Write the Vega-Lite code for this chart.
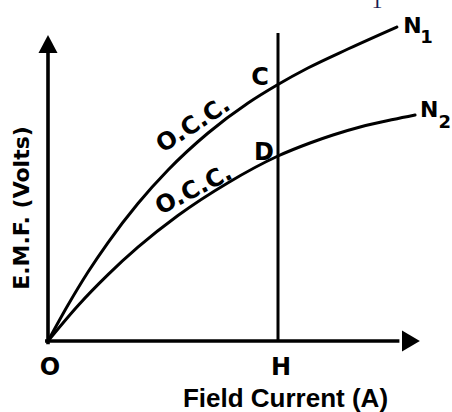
{
  "$schema": "https://vega.github.io/schema/vega-lite/v6.json",
  "autosize": "none",
  "width": 391,
  "height": 330,
  "padding": {"left": 48, "top": 11, "right": 13, "bottom": 71},
  "background": "white",
  "config": {"view": {"stroke": null}},
  "datasets": {
    "curves": [
      {"series": "N1", "current": 0, "emf": 0},
      {"series": "N1", "current": 0.87, "emf": 12.0},
      {"series": "N1", "current": 1.74, "emf": 23.0},
      {"series": "N1", "current": 2.61, "emf": 32.83},
      {"series": "N1", "current": 3.91, "emf": 45.83},
      {"series": "N1", "current": 5.22, "emf": 57.0},
      {"series": "N1", "current": 6.96, "emf": 69.33},
      {"series": "N1", "current": 8.70, "emf": 79.33},
      {"series": "N1", "current": 9.96, "emf": 85.33},
      {"series": "N1", "current": 11.30, "emf": 91.0},
      {"series": "N1", "current": 13.04, "emf": 97.33},
      {"series": "N1", "current": 15.17, "emf": 104.67},
      {"series": "N2", "current": 0, "emf": 0},
      {"series": "N2", "current": 1.30, "emf": 11.77},
      {"series": "N2", "current": 2.61, "emf": 22.13},
      {"series": "N2", "current": 3.91, "emf": 31.27},
      {"series": "N2", "current": 5.65, "emf": 41.83},
      {"series": "N2", "current": 7.83, "emf": 52.77},
      {"series": "N2", "current": 10.0, "emf": 61.67},
      {"series": "N2", "current": 11.39, "emf": 66.0},
      {"series": "N2", "current": 12.39, "emf": 68.67},
      {"series": "N2", "current": 13.57, "emf": 71.33},
      {"series": "N2", "current": 15.0, "emf": 73.83},
      {"series": "N2", "current": 15.96, "emf": 75.33}
    ],
    "axes": [
      {"current": -0.05, "emf": 0, "current2": 15.2, "emf2": 0},
      {"current": 0, "emf": -0.5, "current2": 0, "emf2": 96}
    ],
    "hline": [
      {"current": 10, "emf": 0, "current2": 10, "emf2": 102.67}
    ],
    "yarrow": [{"current": 0, "emf": 99}],
    "xarrow": [{"current": 15.78, "emf": 0}],
    "labels": [
      {"kind": "big", "text": "O", "current": 0.09, "emf": -11.33},
      {"kind": "big", "text": "H", "current": 10.13, "emf": -11.33},
      {"kind": "big", "text": "C", "current": 9.22, "emf": 85.33},
      {"kind": "big", "text": "D", "current": 9.39, "emf": 60.33},
      {"kind": "n", "text": "N", "current": 15.85, "emf": 102.67},
      {"kind": "n", "text": "N", "current": 16.57, "emf": 74.67},
      {"kind": "sub", "text": "1", "current": 16.46, "emf": 99.33},
      {"kind": "sub", "text": "2", "current": 17.25, "emf": 71.0},
      {"kind": "occ1", "text": "O.C.C.", "current": 6.33, "emf": 72.0},
      {"kind": "occ2", "text": "O.C.C.", "current": 6.35, "emf": 50.33},
      {"kind": "crop", "text": "1", "current": 14.3, "emf": 111}
    ]
  },
  "encoding": {
    "x": {
      "field": "current",
      "type": "quantitative",
      "scale": {"domain": [0, 17], "nice": false, "zero": false},
      "axis": {
        "title": "Field Current (A)",
        "domain": false, "ticks": false, "labels": false, "grid": false,
        "titleFont": "Liberation Sans", "titleFontSize": 26, "titleFontWeight": "bold",
        "titleColor": "black", "titleX": 237, "titleY": 65,
        "titleAlign": "center", "titleBaseline": "alphabetic"
      }
    },
    "y": {
      "field": "emf",
      "type": "quantitative",
      "scale": {"domain": [0, 110], "nice": false, "zero": false},
      "axis": {
        "title": "E.M.F. (Volts)",
        "domain": false, "ticks": false, "labels": false, "grid": false,
        "titleFont": "DejaVu Sans", "titleFontSize": 22, "titleFontWeight": "bold",
        "titleColor": "black", "titleX": -20, "titleY": 196.5, "titleAngle": 270,
        "titleAlign": "center", "titleBaseline": "alphabetic"
      }
    }
  },
  "layer": [
    {
      "data": {"name": "curves"},
      "mark": {"type": "line", "color": "black", "strokeWidth": 3, "interpolate": "monotone", "strokeCap": "round"},
      "encoding": {"detail": {"field": "series"}, "order": {"field": "current", "type": "quantitative"}}
    },
    {
      "data": {"name": "axes"},
      "mark": {"type": "rule", "color": "black", "strokeWidth": 3.6, "strokeCap": "square"},
      "encoding": {"x2": {"field": "current2"}, "y2": {"field": "emf2"}}
    },
    {
      "data": {"name": "hline"},
      "mark": {"type": "rule", "color": "black", "strokeWidth": 3},
      "encoding": {"x2": {"field": "current2"}, "y2": {"field": "emf2"}}
    },
    {
      "data": {"name": "yarrow"},
      "mark": {"type": "point", "shape": "M0,-0.95L-1,0.95L1,0.95Z", "size": 361, "filled": true, "color": "black", "opacity": 1},
      "encoding": {}
    },
    {
      "data": {"name": "xarrow"},
      "mark": {"type": "point", "shape": "M0.85,0L-0.85,-1L-0.85,1Z", "size": 441, "filled": true, "color": "black", "opacity": 1},
      "encoding": {}
    },
    {
      "data": {"name": "labels"},
      "transform": [{"filter": "datum.kind === 'big'"}],
      "mark": {"type": "text", "font": "DejaVu Sans", "fontSize": 24, "fontWeight": "bold", "color": "black", "align": "center", "baseline": "alphabetic"},
      "encoding": {"text": {"field": "text"}}
    },
    {
      "data": {"name": "labels"},
      "transform": [{"filter": "datum.kind === 'n'"}],
      "mark": {"type": "text", "font": "DejaVu Sans", "fontSize": 22, "fontWeight": "bold", "color": "black", "align": "center", "baseline": "alphabetic"},
      "encoding": {"text": {"field": "text"}}
    },
    {
      "data": {"name": "labels"},
      "transform": [{"filter": "datum.kind === 'sub'"}],
      "mark": {"type": "text", "font": "DejaVu Sans", "fontSize": 18, "fontWeight": "bold", "color": "black", "align": "center", "baseline": "alphabetic"},
      "encoding": {"text": {"field": "text"}}
    },
    {
      "data": {"name": "labels"},
      "transform": [{"filter": "datum.kind === 'occ1'"}],
      "mark": {"type": "text", "font": "DejaVu Sans", "fontSize": 24, "fontWeight": "bold", "color": "black", "align": "center", "baseline": "middle", "angle": -33},
      "encoding": {"text": {"field": "text"}}
    },
    {
      "data": {"name": "labels"},
      "transform": [{"filter": "datum.kind === 'occ2'"}],
      "mark": {"type": "text", "font": "DejaVu Sans", "fontSize": 24, "fontWeight": "bold", "color": "black", "align": "center", "baseline": "middle", "angle": -27},
      "encoding": {"text": {"field": "text"}}
    },
    {
      "data": {"name": "labels"},
      "transform": [{"filter": "datum.kind === 'crop'"}],
      "mark": {"type": "text", "font": "Liberation Serif", "fontSize": 22, "color": "#1b1b50", "align": "center", "baseline": "alphabetic"},
      "encoding": {"text": {"field": "text"}}
    }
  ]
}
